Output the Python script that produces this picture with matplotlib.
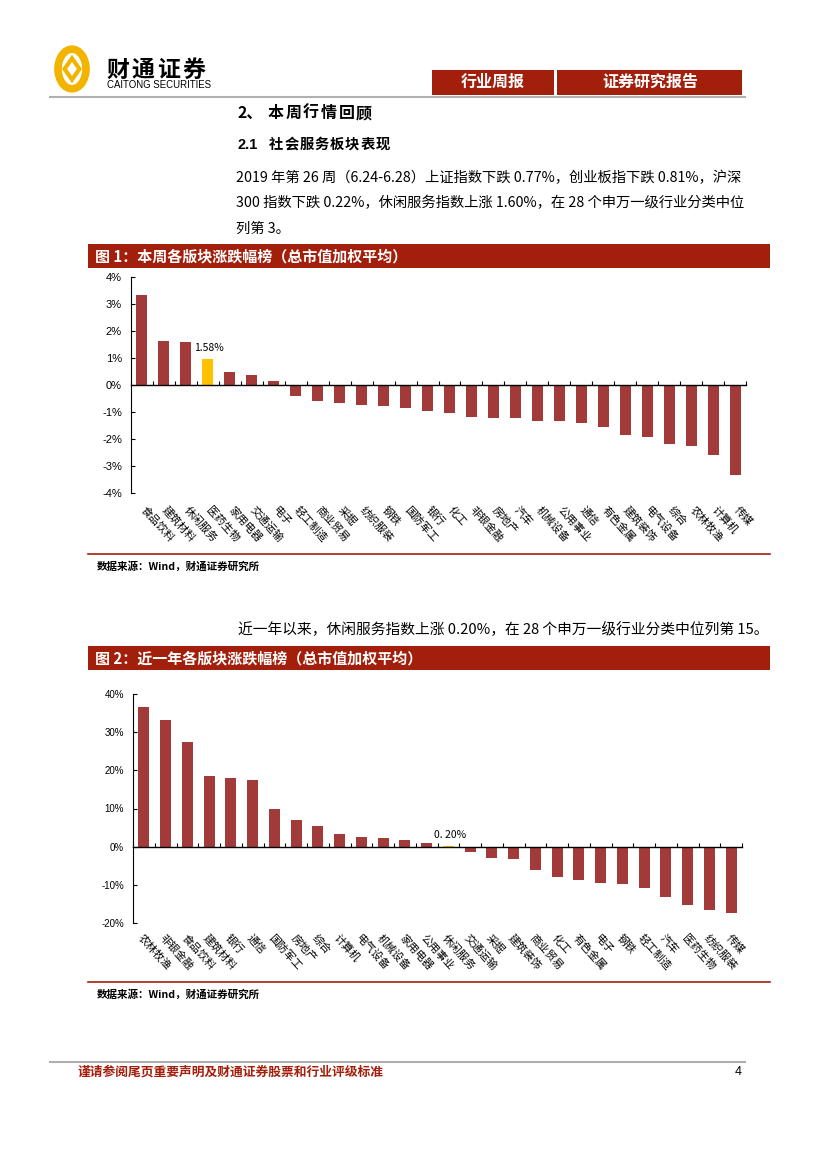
import matplotlib
matplotlib.use("Agg")
import matplotlib.pyplot as plt
from matplotlib.patches import Rectangle, Circle, RegularPolygon
from matplotlib.ticker import FuncFormatter
import numpy as np

plt.rcParams['font.family'] = ['Noto Sans CJK SC', 'DejaVu Sans']

# chart 1: weekly change by sector (%)
week_names = ['食品饮料', '建筑材料', '休闲服务', '医药生物', '家用电器', '交通运输', '电子',
              '轻工制造', '商业贸易', '采掘', '纺织服装', '钢铁', '国防军工', '银行', '化工',
              '非银金融', '房地产', '汽车', '机械设备', '公用事业', '通信', '有色金属',
              '建筑装饰', '电气设备', '综合', '农林牧渔', '计算机', '传媒']
week_vals = [3.35, 1.63, 1.59, 0.97, 0.48, 0.36, 0.15, -0.41, -0.59, -0.68, -0.75, -0.79,
             -0.87, -0.98, -1.02, -1.20, -1.24, -1.24, -1.33, -1.33, -1.40, -1.55, -1.85,
             -1.93, -2.20, -2.25, -2.59, -3.35]
week_hl = 3
week_label = '1.58%'

# chart 2: one-year change by sector (%)
year_names = ['农林牧渔', '非银金融', '食品饮料', '建筑材料', '银行', '通信', '国防军工', '房地产',
              '综合', '计算机', '电气设备', '机械设备', '家用电器', '公用事业', '休闲服务',
              '交通运输', '采掘', '建筑装饰', '商业贸易', '化工', '有色金属', '电子', '钢铁',
              '轻工制造', '汽车', '医药生物', '纺织服装', '传媒']
year_vals = [36.7, 33.2, 27.5, 18.5, 18.0, 17.4, 10.0, 7.0, 5.3, 3.2, 2.6, 2.4, 1.8, 1.0,
             0.20, -1.3, -2.9, -3.2, -6.2, -7.9, -8.7, -9.5, -9.9, -10.7, -13.1, -15.3,
             -16.6, -17.5]
year_hl = 14
year_label = '0. 20%'

RED = '#A21F0C'
BAR = '#A23A3A'
GOLD = '#FFC000'
W, H = 827, 1170


def fx(x):
    return x / W


def fy(y):
    return 1 - y / H


fig = plt.figure(figsize=(8.27, 11.70), dpi=100)


def hline(x0, x1, y, color, lw):
    fig.add_artist(plt.Line2D([fx(x0), fx(x1)], [fy(y), fy(y)], color=color, lw=lw,
                              transform=fig.transFigure))


def box(x0, y0, x1, y1, color):
    fig.add_artist(Rectangle((fx(x0), fy(y1)), (x1 - x0) / W, (y1 - y0) / H,
                             transform=fig.transFigure, color=color, lw=0))


def spaced(x, y, s, pitch, **kw):
    # draw characters one by one to mimic the wide letter spacing of the page
    for i, ch in enumerate(s):
        fig.text(fx(x + i * pitch), fy(y), ch, va='center', **kw)


# header
fig.add_artist(Circle((fx(72), fy(69)), 14 / W, transform=fig.transFigure, fill=False,
                      ec='#F2B400', lw=5.5))
fig.add_artist(RegularPolygon((fx(72), fy(69)), 4, radius=7.5 / W, transform=fig.transFigure,
                              fill=False, ec='#F2B400', lw=3))
spaced(106, 70, '财通证券', 25.5, fontsize=16.5, fontweight='bold')
fig.text(fx(107), fy(85), 'CAITONG SECURITIES', fontsize=6.9, va='center', family='Liberation Sans')
box(432, 70, 554, 95, RED)
box(557, 70, 742, 95, RED)
fig.text(fx(493), fy(82), '行业周报', color='white', fontsize=11.5, fontweight='bold',
         ha='center', va='center')
fig.text(fx(650), fy(82), '证券研究报告', color='white', fontsize=11.5, fontweight='bold',
         ha='center', va='center')
hline(50, 745, 97, '#B0B0B0', 1.5)

fig.text(fx(238), fy(113), '2、', fontsize=11.5, fontweight='bold', va='center')
spaced(268, 113, '本周行情回顾', 17.6, fontsize=11.5, fontweight='bold')
fig.text(fx(238), fy(145), '2.1', fontsize=10.5, fontweight='bold', va='center',
         family='Liberation Sans')
spaced(269, 145, '社会服务板块表现', 15.2, fontsize=10.3, fontweight='bold')

para = ['2019 年第 26 周（6.24-6.28）上证指数下跌 0.77%，创业板指下跌 0.81%，沪深',
        '300 指数下跌 0.22%，休闲服务指数上涨 1.60%，在 28 个申万一级行业分类中位',
        '列第 3。']
for i, line in enumerate(para):
    fig.text(fx(236), fy(178 + i * 25.5), line, fontsize=10.3, va='center')

fig.text(fx(238), fy(630), '近一年以来，休闲服务指数上涨 0.20%，在 28 个申万一级行业分类中位列第 15。',
         fontsize=10.6, va='center')


def bar_chart(names, vals, hl, label, rect, ylim, step, title, title_y, line_y, ylab_size, off):
    box(88, title_y, 770, title_y + 24, RED)
    fig.text(fx(95), fy(title_y + 12), title, color='white', fontsize=10.8, fontweight='bold',
             va='center')
    ax = fig.add_axes([fx(rect[0]), fy(rect[3]), (rect[2] - rect[0]) / W, (rect[3] - rect[1]) / H])
    x = np.arange(len(names))
    colors = [GOLD if i == hl else BAR for i in x]
    ax.bar(x, vals, width=0.5, color=colors, zorder=2)
    ax.set_xlim(-0.5, len(names) - 0.5)
    ax.set_ylim(*ylim)
    ax.set_yticks(np.arange(ylim[0], ylim[1] + step / 2, step))
    ax.yaxis.set_major_formatter(FuncFormatter(lambda v, p: f'{v:.0f}%'))
    ax.tick_params(axis='y', direction='in', length=3, width=0.8, labelsize=ylab_size, pad=6.5)
    for t in ax.get_yticklabels():
        t.set_family('Liberation Sans')
    for s in ['top', 'right']:
        ax.spines[s].set_visible(False)
    ax.spines['left'].set_linewidth(0.8)
    ax.spines['bottom'].set_position(('data', 0))
    ax.spines['bottom'].set_linewidth(1.0)
    ax.set_xticks(np.arange(-0.5, len(names), 1))
    ax.set_xticklabels([])
    ax.tick_params(axis='x', direction='in', length=3, width=0.8)
    for i, name in enumerate(names):
        ax.annotate(name, xy=(i, 0), xycoords=('data', 'axes fraction'), xytext=off,
                    textcoords='offset points', rotation=-48, rotation_mode='anchor',
                    ha='left', va='top', fontsize=7.8)
    ax.annotate(label, xy=(hl, vals[hl]), xytext=(1, 4), textcoords='offset points',
                ha='center', va='bottom', fontsize=7.5)
    hline(88, 770, line_y, RED, 1.2)
    fig.text(fx(97), fy(line_y + 12), '数据来源：Wind，财通证券研究所', fontsize=7.6,
             fontweight='bold', va='center')
    return ax


bar_chart(week_names, week_vals, week_hl, week_label, (131, 277, 746, 493), (-4, 4), 1,
          '图 1：本周各版块涨跌幅榜（总市值加权平均）', 244, 554, 8, (3, -8.5))
bar_chart(year_names, year_vals, year_hl, year_label, (133, 694, 742, 923), (-20, 40), 10,
          '图 2：近一年各版块涨跌幅榜（总市值加权平均）', 646, 982, 7, (0, -7))

# footer
hline(50, 745, 1062, '#B0B0B0', 1.5)
fig.text(fx(78), fy(1072), '谨请参阅尾页重要声明及财通证券股票和行业评级标准', color=RED, fontsize=9.2,
         fontweight='bold', va='center')
fig.text(fx(735), fy(1072), '4', fontsize=9, va='center', family='Liberation Sans')

fig.savefig('out.png', dpi=100)
